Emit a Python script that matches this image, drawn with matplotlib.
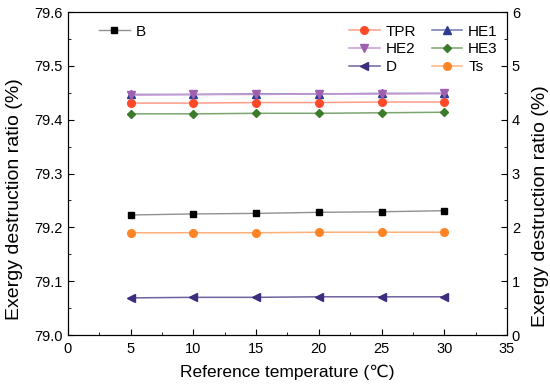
import matplotlib.pyplot as plt
from matplotlib.ticker import MultipleLocator

plt.rcParams['font.family'] = ['Liberation Sans', 'DejaVu Sans']

# reference temperatures
temps = [5, 10, 15, 20, 25, 30]

# left axis
b_vals = [79.223, 79.225, 79.226, 79.228, 79.229, 79.231]

# right axis
tpr_vals = [4.31, 4.31, 4.32, 4.32, 4.33, 4.33]
he1_vals = [4.47, 4.47, 4.48, 4.48, 4.49, 4.49]
he2_vals = [4.46, 4.47, 4.47, 4.48, 4.48, 4.49]
he3_vals = [4.11, 4.11, 4.12, 4.12, 4.13, 4.14]
d_vals = [0.69, 0.70, 0.70, 0.71, 0.71, 0.71]
ts_vals = [1.90, 1.90, 1.90, 1.91, 1.91, 1.91]


def style_axis(axis):
    axis.tick_params(which='both', direction='in', labelsize=10.5)
    axis.tick_params(which='major', length=4)
    axis.tick_params(which='minor', length=2.5)


fig = plt.figure(figsize=(5.5, 3.92), dpi=100)
ax = fig.add_axes([0.1236, 0.1454, 0.7982, 0.8236])
ax2 = ax.twinx()

ax.plot(temps, b_vals, color='#909090', linewidth=1, marker='s', markersize=4.5,
        markerfacecolor='black', markeredgecolor='black', label='B')

series = [
    ('TPR', tpr_vals, 'o', '#FF4A2A', '#FF9C88'),
    ('HE1', he1_vals, '^', '#2E3C90', '#6C78B4'),
    ('HE2', he2_vals, 'v', '#A060B0', '#C898D2'),
    ('HE3', he3_vals, 'D', '#3C7A2C', '#7AA66E'),
    ('D', d_vals, '<', '#3E2C7C', '#6F62A0'),
    ('Ts', ts_vals, 'o', '#FF8426', '#FFB07A'),
]
lines = {}
for name, vals, mk, mcol, lcol in series:
    ms = 4.5 if mk == 'D' else 5.5
    ln, = ax2.plot(temps, vals, color=lcol, linewidth=1.1, marker=mk, markersize=ms,
                   markerfacecolor=mcol, markeredgecolor=mcol, label=name)
    lines[name] = ln

ax.set_xlim(0, 35)
ax.set_ylim(79.0, 79.6)
ax2.set_ylim(0, 6)
ax.xaxis.set_major_locator(MultipleLocator(5))
ax.xaxis.set_minor_locator(MultipleLocator(2.5))
ax.yaxis.set_major_locator(MultipleLocator(0.1))
ax.yaxis.set_minor_locator(MultipleLocator(0.05))
ax2.yaxis.set_major_locator(MultipleLocator(1))
ax2.yaxis.set_minor_locator(MultipleLocator(0.5))
ax.yaxis.set_major_formatter(plt.FormatStrFormatter('%.1f'))
style_axis(ax)
style_axis(ax2)
ax.tick_params(axis='x', pad=5)

ax.set_xlabel('Reference temperature (℃)', fontsize=12.5, labelpad=6)
ax.set_ylabel('Exergy destruction ratio (%)', fontsize=14)
ax2.set_ylabel('Exergy destruction ratio (%)', fontsize=14)
ax.yaxis.set_label_coords(-0.103, 0.42)
ax2.yaxis.set_label_coords(1.057, 0.40)

ax.legend(loc='upper left', frameon=False, fontsize=11, handlelength=2.0,
          handletextpad=0.4, bbox_to_anchor=(0.05, 0.99), borderaxespad=0.2)
order = ['TPR', 'HE2', 'D', 'HE1', 'HE3', 'Ts']
ax2.legend([lines[n] for n in order], order, loc='upper right', ncol=2,
           frameon=False, fontsize=11, handlelength=2.0, handletextpad=0.4,
           columnspacing=1.0, labelspacing=0.25, borderaxespad=0.2,
           bbox_to_anchor=(1.0, 0.99))

fig.savefig('out.png', dpi=100)
